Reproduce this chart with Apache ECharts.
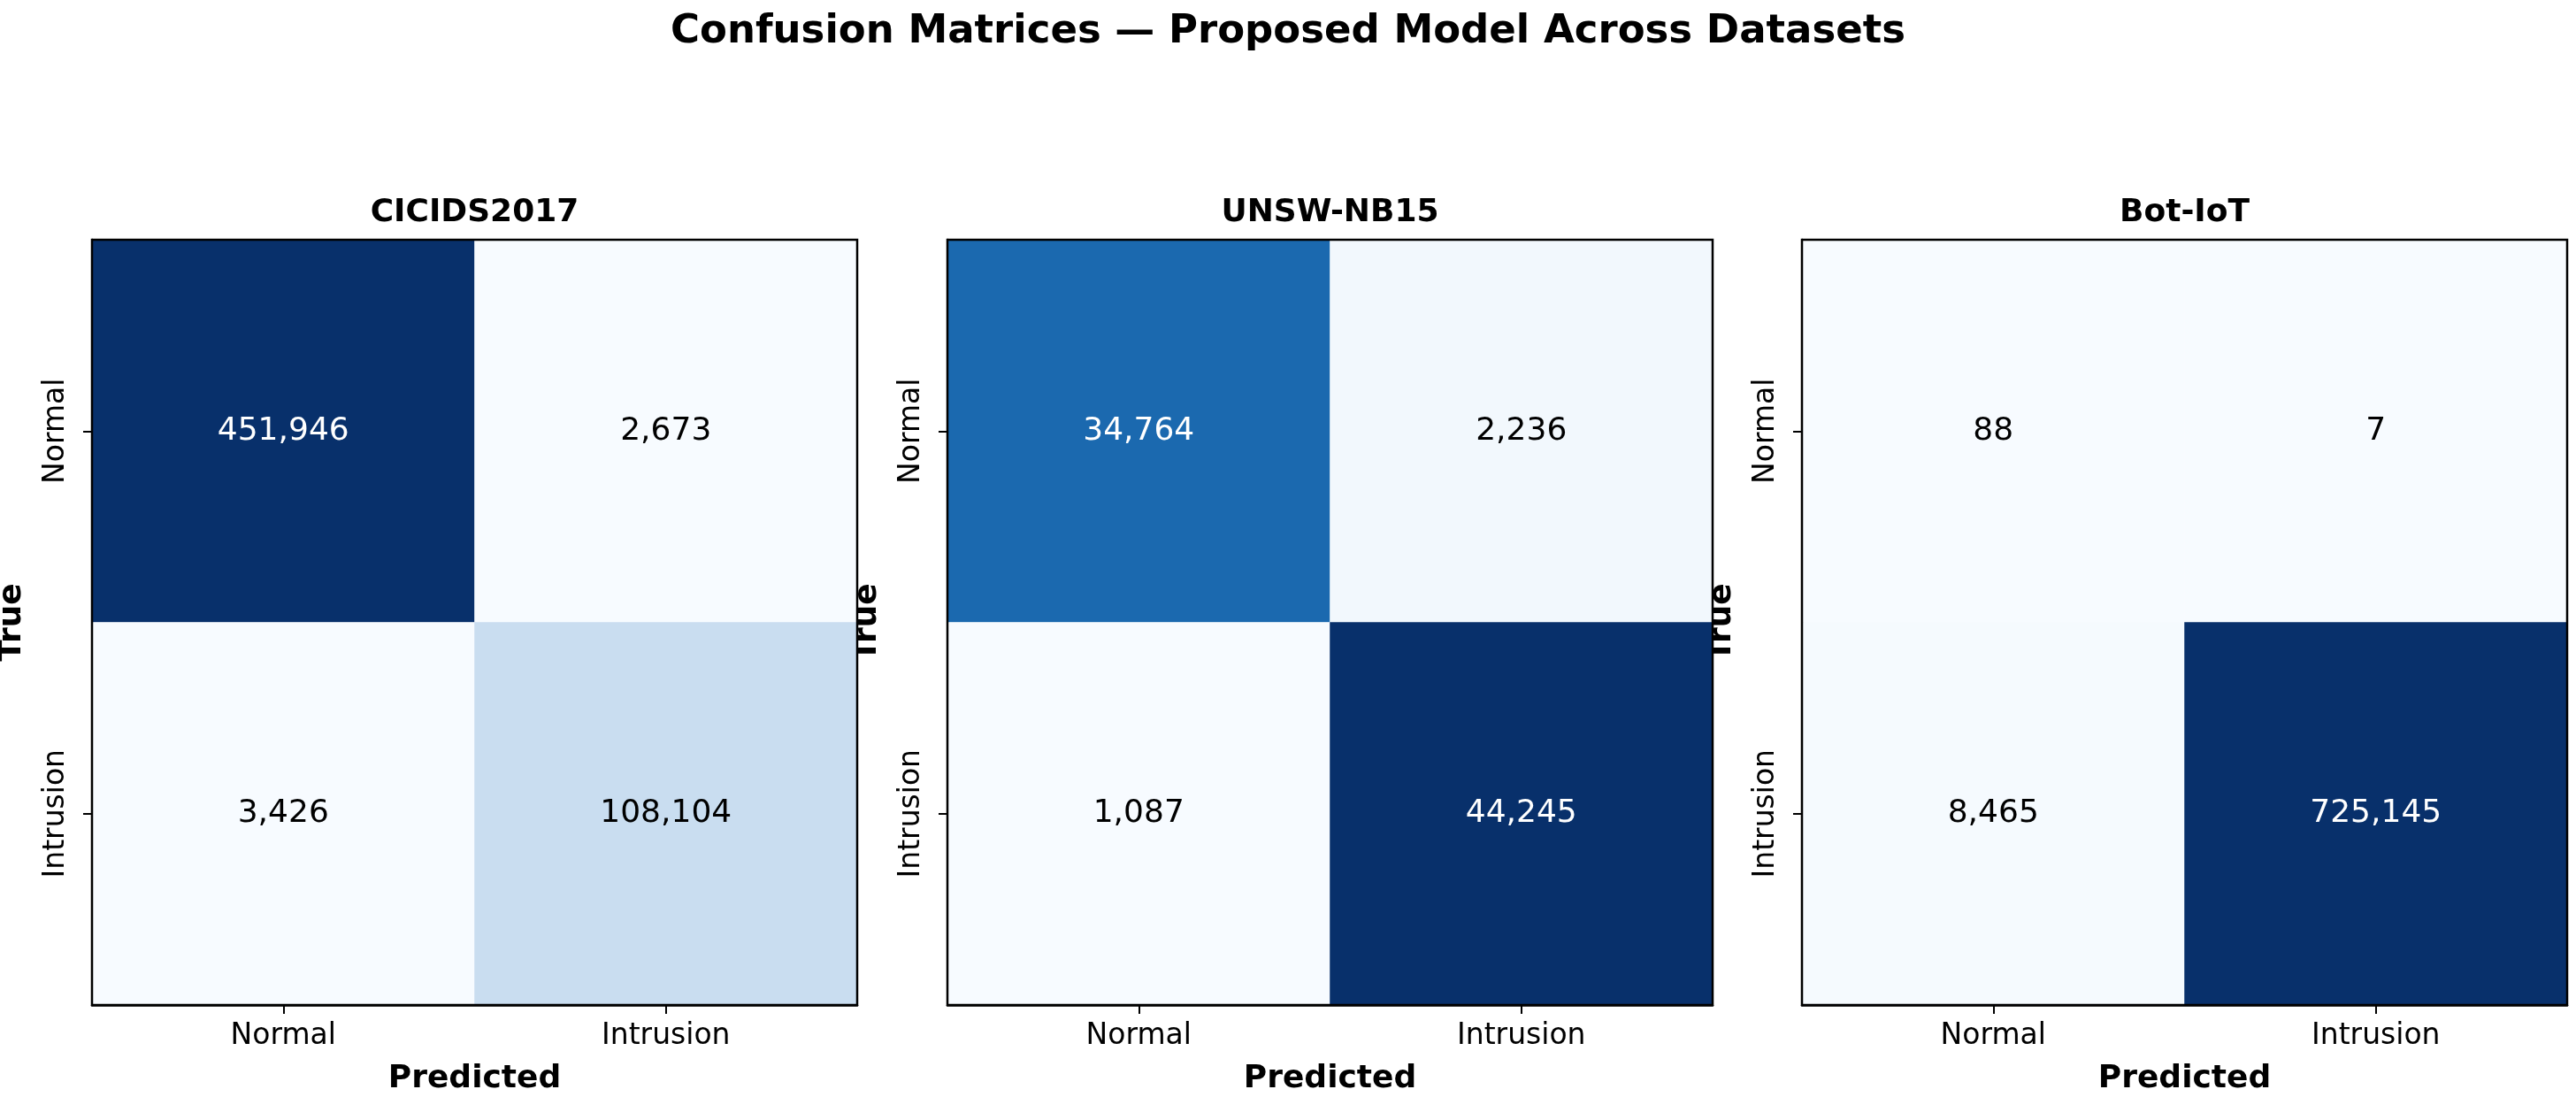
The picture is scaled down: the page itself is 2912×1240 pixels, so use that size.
<!DOCTYPE html>
<html>
<head>
<meta charset="UTF-8">
<title>Confusion Matrices</title>
<script src="https://cdn.jsdelivr.net/npm/echarts@6/dist/echarts.min.js"></script>
<style>
  html, body { margin: 0; padding: 0; background: #fff; }
  #main { width: 2912px; height: 1240px; }
</style>
</head>
<body>
<div id="main"></div>
<script>
// labels
var classes = ['Normal', 'Intrusion'];
var datasets = ['CICIDS2017', 'UNSW-NB15', 'Bot-IoT'];

// rows = true class, cols = predicted class
var cicids = [[451946, 2673], [3426, 108104]];
var unsw = [[34764, 2236], [1087, 44245]];
var botiot = [[88, 7], [8465, 725145]];
var matrices = [cicids, unsw, botiot];

// matplotlib "Blues"
var blues = ['#f7fbff', '#deebf7', '#c6dbef', '#9ecae1', '#6baed6', '#4292c6', '#2171b5', '#08519c', '#08306b'];

var FONT = 'DejaVu Sans';
var panelLeft = [104, 1071, 2037];
var panelTop = 271;
var panelSize = 865;

var chart = echarts.init(document.getElementById('main'));

var grids = [], xAxes = [], yAxes = [], series = [], visualMaps = [];
var titles = [{
  text: 'Confusion Matrices \u2014 Proposed Model Across Datasets',
  left: 'center',
  top: 14,
  padding: 0,
  textStyle: { fontFamily: FONT, fontSize: 45, fontWeight: 'bold', color: '#000' }
}];

matrices.forEach(function (m, k) {
  var flat = [];
  m.forEach(function (row) { row.forEach(function (v) { flat.push(v); }); });
  var vmin = Math.min.apply(null, flat);
  var vmax = Math.max.apply(null, flat);
  var thresh = (vmin + vmax) / 2;

  grids.push({
    left: panelLeft[k], top: panelTop, width: panelSize, height: panelSize,
    outerBoundsMode: 'none', containLabel: false,
    show: true, z: 5, backgroundColor: 'transparent',
    borderColor: '#000', borderWidth: 2.5
  });

  titles.push({
    text: datasets[k],
    left: panelLeft[k] + panelSize / 2,
    top: 223,
    padding: 0,
    textAlign: 'center',
    textStyle: { fontFamily: FONT, fontSize: 36, fontWeight: 'bold', color: '#000' }
  });

  xAxes.push({
    type: 'category', gridIndex: k, data: classes, position: 'bottom',
    name: 'Predicted', nameLocation: 'middle', nameGap: 66,
    nameTextStyle: { fontFamily: FONT, fontSize: 36, fontWeight: 'bold', color: '#000' },
    axisLine: { show: true, lineStyle: { color: '#000', width: 2.5 } },
    axisTick: { show: true, alignWithLabel: true, length: 10, lineStyle: { color: '#000', width: 2 } },
    axisLabel: { fontFamily: FONT, fontSize: 33, color: '#000', margin: 19 },
    splitLine: { show: false }, splitArea: { show: false }
  });

  yAxes.push({
    type: 'category', gridIndex: k, data: classes, inverse: true,
    name: 'True', nameLocation: 'middle', nameGap: 72,
    nameTextStyle: { fontFamily: FONT, fontSize: 36, fontWeight: 'bold', color: '#000' },
    axisLine: { show: true, lineStyle: { color: '#000', width: 2.5 } },
    axisTick: { show: true, alignWithLabel: true, length: 10, lineStyle: { color: '#000', width: 2 } },
    axisLabel: { fontFamily: FONT, fontSize: 33, color: '#000', margin: 24, rotate: 90 },
    splitLine: { show: false }, splitArea: { show: false }
  });

  var data = [];
  m.forEach(function (row, i) {
    row.forEach(function (v, j) {
      data.push({
        value: [j, i, v],
        label: { color: v > thresh ? '#fff' : '#000' }
      });
    });
  });

  visualMaps.push({
    type: 'continuous', show: false, seriesIndex: k, dimension: 2,
    min: vmin, max: vmax, inRange: { color: blues }
  });

  series.push({
    type: 'heatmap', xAxisIndex: k, yAxisIndex: k, data: data,
    label: {
      show: true, fontFamily: FONT, fontSize: 36,
      formatter: function (p) { return p.value[2].toLocaleString('en-US'); }
    },
    itemStyle: { borderWidth: 0 },
    emphasis: { disabled: true }
  });
});

chart.setOption({
  backgroundColor: '#fff',
  animation: false,
  title: titles,
  grid: grids,
  xAxis: xAxes,
  yAxis: yAxes,
  visualMap: visualMaps,
  series: series
});
</script>
</body>
</html>
